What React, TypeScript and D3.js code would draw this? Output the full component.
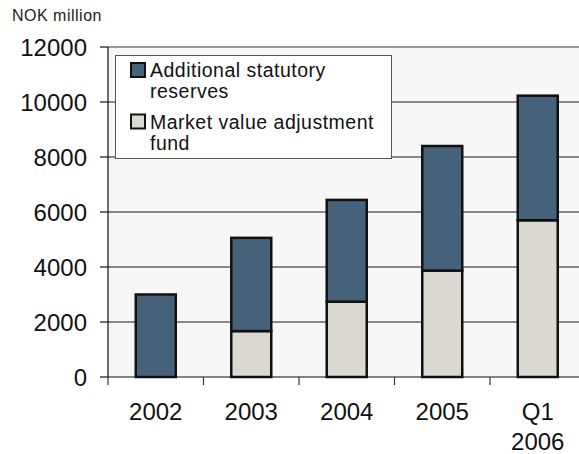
import React from "react";
import * as d3 from "d3";

const categories = ["2002", "2003", "2004", "2005", "Q1 2006"];
const marketValueFund = [0, 1670, 2740, 3870, 5700];
const totalReserves = [3000, 5060, 6440, 8400, 10230];
const yTicks = [0, 2000, 4000, 6000, 8000, 10000, 12000];

const W = 579;
const H = 454;
const FONT = "'Liberation Sans', Arial, sans-serif";
const DARK = "#46627a";
const LIGHT = "#dcd9d2";

export default function App() {
  const left = 108;
  const catW = 95.5;
  const right = left + catW * categories.length;
  const top = 47;
  const bottom = 377;

  const x = d3
    .scaleBand<string>()
    .domain(categories)
    .range([left, right])
    .paddingInner(0)
    .paddingOuter(0);
  const y = d3.scaleLinear().domain([0, 12000]).range([bottom, top]);
  const barW = 40;

  const additional = totalReserves.map((t, i) => t - marketValueFund[i]);

  return (
    <svg
      width={W}
      height={H}
      style={{ position: "fixed", left: 0, top: 0, background: "#fff" }}
      fontFamily={FONT}
    >
      <text x={12} y={20.5} fontSize={16} fill="#222" letterSpacing={0.5}>
        NOK million
      </text>
      <rect x={left} y={top} width={right - left} height={bottom - top} fill="#f7f7f7" />
      {yTicks.map((t) =>
        t === 0 || t === 12000 ? null : (
          <line key={t} x1={left} x2={right} y1={y(t)} y2={y(t)} stroke="#1a1a1a" strokeWidth={1} />
        )
      )}
      <line x1={left} x2={right} y1={y(12000)} y2={y(12000)} stroke="#7a7a7a" strokeWidth={1.5} />
      <rect x={115.5} y={55.5} width={276} height={103} fill="#fff" stroke="#555" strokeWidth={1} />
      <rect x={131} y={63} width={14} height={14} fill={DARK} stroke="#111" strokeWidth={2} />
      <text fontSize={19.5} fill="#111" letterSpacing={0.5}>
        <tspan x={150} y={77}>Additional statutory</tspan>
        <tspan x={150} y={97.5}>reserves</tspan>
      </text>
      <rect x={131} y={114.5} width={14} height={14} fill={LIGHT} stroke="#111" strokeWidth={2} />
      <text fontSize={19.5} fill="#111" letterSpacing={0.5}>
        <tspan x={150} y={128.5}>Market value adjustment</tspan>
        <tspan x={150} y={150}>fund</tspan>
      </text>
      {categories.map((c, i) => {
        const cx = (x(c) as number) + x.bandwidth() / 2;
        const m = marketValueFund[i];
        const a = additional[i];
        return (
          <g key={c}>
            {m > 0 && (
              <rect
                x={cx - barW / 2}
                y={y(m)}
                width={barW}
                height={y(0) - y(m)}
                fill={LIGHT}
                stroke="#111"
                strokeWidth={2.5}
              />
            )}
            <rect
              x={cx - barW / 2}
              y={y(m + a)}
              width={barW}
              height={y(m) - y(m + a)}
              fill={DARK}
              stroke="#111"
              strokeWidth={2.5}
            />
          </g>
        );
      })}
      <line x1={left} x2={left} y1={top} y2={bottom} stroke="#111" strokeWidth={1.2} />
      {yTicks.map((t) => (
        <g key={t}>
          <line x1={left - 8} x2={left} y1={y(t)} y2={y(t)} stroke="#111" strokeWidth={1.2} />
          <text x={87} y={y(t)} dy="0.36em" textAnchor="end" fontSize={24} fill="#111">
            {t}
          </text>
        </g>
      ))}
      <line x1={left} x2={right} y1={bottom} y2={bottom} stroke="#111" strokeWidth={1.2} />
      {categories.map((c) => (
        <line
          key={c}
          x1={x(c) as number}
          x2={x(c) as number}
          y1={bottom}
          y2={bottom + 8}
          stroke="#333"
          strokeWidth={1.2}
        />
      ))}
      {categories.map((c) => {
        const cx = (x(c) as number) + x.bandwidth() / 2;
        const parts = c.split(" ");
        return (
          <text key={c} textAnchor="middle" fontSize={24} fill="#111">
            {parts.map((p, j) => (
              <tspan key={j} x={cx} y={420 + j * 30}>
                {p}
              </tspan>
            ))}
          </text>
        );
      })}
    </svg>
  );
}
